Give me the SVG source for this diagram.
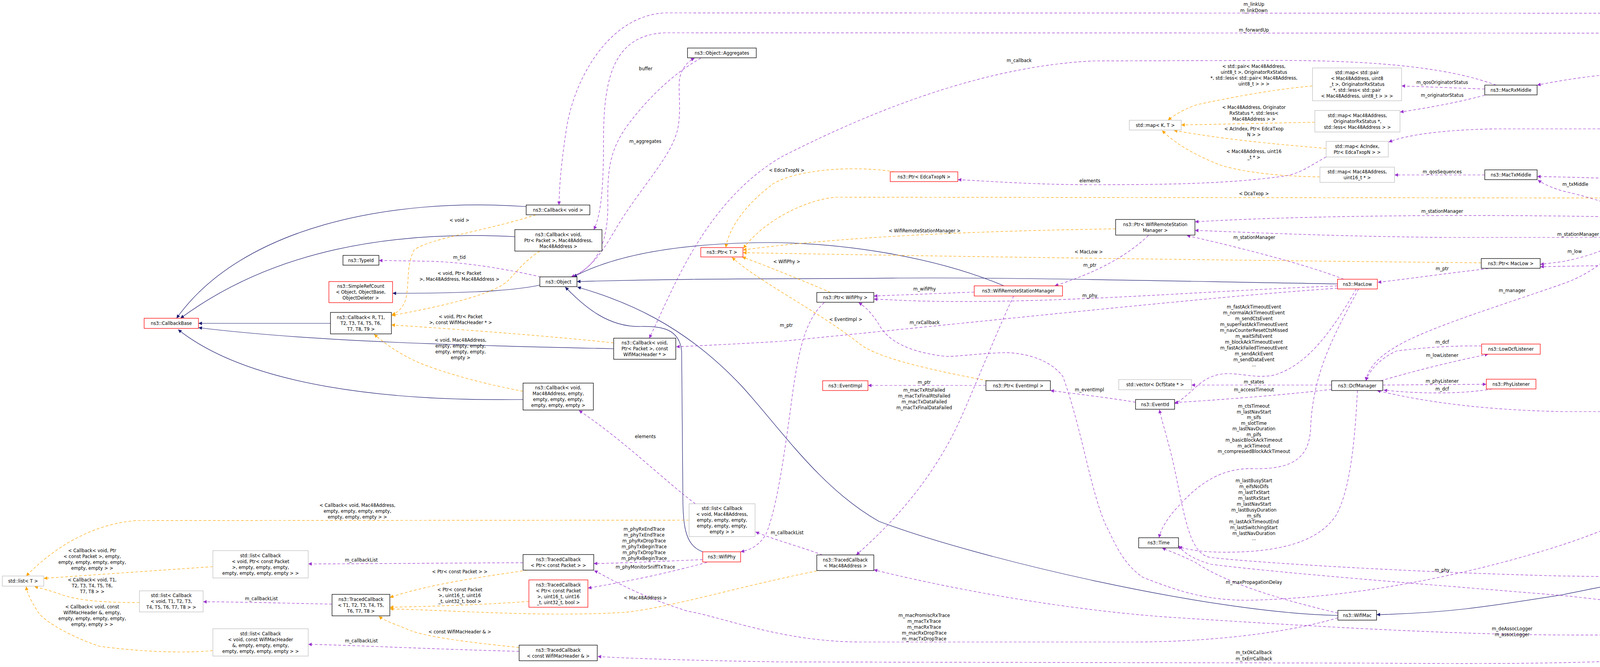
<svg xmlns="http://www.w3.org/2000/svg" width="5024" height="1708" viewBox="0 0 5024 1708">
<style>
.n rect{fill:#fff;stroke:#000;stroke-width:1.3}
.n.r rect{stroke:#f00}
.n.g rect{stroke:#bfbfbf}
.n.s rect{fill:#bfbfbf}
text{font-family:"DejaVu Sans","Liberation Sans",sans-serif;font-size:11.5px;fill:#000;text-anchor:middle}
.e path{fill:none;stroke-width:1.2}
.inh{stroke:#191970}
.use{stroke:#9a32cd;stroke-dasharray:7,5}
.tpl{stroke:#ffa500;stroke-dasharray:7,5}
</style>
<defs>
<marker id="ab" viewBox="0 0 10 10" refX="10" refY="5" markerUnits="userSpaceOnUse" markerWidth="12" markerHeight="9" orient="auto"><path d="M0,0L10,5L0,10z" fill="#191970"/></marker>
<marker id="ap" viewBox="0 0 10 10" refX="10" refY="5" markerUnits="userSpaceOnUse" markerWidth="12" markerHeight="9" orient="auto"><path d="M0,0L10,5L0,10z" fill="#9a32cd"/></marker>
<marker id="ao" viewBox="0 0 10 10" refX="10" refY="5" markerUnits="userSpaceOnUse" markerWidth="12" markerHeight="9" orient="auto"><path d="M0,0L10,5L0,10z" fill="#ffa500"/></marker>
</defs>
<rect width="5024" height="1708" fill="#fff"/>
<g id="edges" class="e">
<path class="inh" marker-end="url(#ab)" d="M1347,529 C1000,505 620,580 452,815"/>
<path class="inh" marker-end="url(#ab)" d="M1318,606 C1000,590 700,640 462,815"/>
<path class="inh" marker-end="url(#ab)" d="M846,828 L508,828"/>
<path class="inh" marker-end="url(#ab)" d="M1382,730 C1300,748 1150,751 1005,751"/>
<path class="inh" marker-end="url(#ab)" d="M1571,893 C1200,885 800,875 508,839"/>
<path class="inh" marker-end="url(#ab)" d="M1339,1023 C1000,1028 640,990 456,844"/>
<path class="inh" marker-end="url(#ab)" d="M1799,1413 C1750,1395 1748,1340 1748,1250 L1745,900 C1740,840 1690,835 1640,836 C1560,838 1500,790 1447,735"/>
<path class="inh" marker-end="url(#ab)" d="M2570,732 C2400,660 2150,615 1912,622 C1700,628 1560,660 1468,709"/>
<path class="inh" marker-end="url(#ab)" d="M3424,727 C3000,720 2600,710 2300,712 C2000,715 1800,712 1477,721"/>
<path class="inh" marker-end="url(#ab)" d="M3425,1576 C3100,1570 2500,1430 2250,1335 C2100,1250 2000,1100 1900,990 C1750,830 1600,770 1478,735"/>
<path class="inh" marker-end="url(#ab)" d="M4771,596 L4770,800 C4765,1100 4720,1330 4673,1353 C4500,1440 4200,1480 4000,1523 C3800,1555 3700,1570 3524,1574"/>
<path class="inh" marker-end="url(#ab)" d="M4955,1502 L4776,597"/>
<path class="inh" marker-end="url(#ab)" d="M4481,391 L4317,391"/>
<path class="use" marker-end="url(#ap)" d="M4770,570 C4760,300 4700,40 4530,34 L1702,33 C1560,40 1470,200 1450,330 C1435,430 1432,480 1431,525"/>
<path class="use" marker-end="url(#ap)" d="M4768,570 C4740,300 4680,90 4530,85 L1702,84 C1570,90 1545,200 1545,360 C1545,470 1540,550 1520,588"/>
<path class="use" marker-end="url(#ap)" d="M1470,708 C1520,680 1545,640 1580,580 C1640,480 1720,400 1735,330 C1745,280 1735,230 1740,200 C1745,175 1760,158 1778,149"/>
<path class="use" marker-end="url(#ap)" d="M1794,149 C1720,190 1650,260 1600,330 C1560,390 1555,440 1556,520 C1557,600 1540,680 1462,709"/>
<path class="use" marker-end="url(#ap)" d="M1384,709 C1300,690 1200,672 1100,669 L970,667"/>
<path class="use" marker-end="url(#ap)" d="M3830,218 C3700,170 3500,152 3200,155 L2800,156 C2500,170 2200,300 2000,402 C1800,520 1720,750 1662,866"/>
<path class="use" marker-end="url(#ap)" d="M1780,1290 C1700,1230 1600,1130 1482,1051"/>
<path class="use" marker-end="url(#ap)" d="M2105,1421 C2050,1400 1990,1385 1934,1362"/>
<path class="use" marker-end="url(#ap)" d="M1799,1433 C1700,1437 1600,1442 1520,1443"/>
<path class="use" marker-end="url(#ap)" d="M1810,1440 C1700,1470 1600,1490 1505,1506"/>
<path class="use" marker-end="url(#ap)" d="M2110,775 C2060,820 2045,900 2030,1000 C2010,1150 1990,1300 1960,1370 C1940,1400 1920,1408 1896,1413"/>
<path class="use" marker-end="url(#ap)" d="M2494,748 L2237,758"/>
<path class="use" marker-end="url(#ap)" d="M3424,732 C3100,745 2800,770 2500,772 C2350,773 2300,768 2237,766"/>
<path class="use" marker-end="url(#ap)" d="M3424,738 C3100,760 2600,815 2000,874 C1900,880 1800,885 1731,888"/>
<path class="use" marker-end="url(#ap)" d="M4163,556 C3900,550 3400,548 3059,568"/>
<path class="use" marker-end="url(#ap)" d="M4699,594 C4600,605 4550,608 4500,608 L3700,608 C3400,605 3200,595 3059,590"/>
<path class="use" marker-end="url(#ap)" d="M3440,715 C3350,680 3200,640 3038,603"/>
<path class="use" marker-end="url(#ap)" d="M2940,603 C2880,660 2800,700 2700,732"/>
<path class="tpl" marker-end="url(#ao)" d="M2856,586 C2600,590 2200,600 1902,640"/>
<path class="tpl" marker-end="url(#ao)" d="M2290,440 C2200,425 2050,430 1980,470 C1900,530 1865,590 1858,634"/>
<path class="tpl" marker-end="url(#ao)" d="M4470,545 C4400,520 4300,507 4150,507 L2140,505 C2070,510 1960,560 1903,636"/>
<path class="tpl" marker-end="url(#ao)" d="M3792,673 C3300,668 2600,660 1902,647"/>
<path class="tpl" marker-end="url(#ao)" d="M2126,749 C2060,720 1960,680 1900,658"/>
<path class="tpl" marker-end="url(#ao)" d="M2528,975 C2400,950 2250,920 2200,880 C2100,800 1940,720 1874,659"/>
<path class="use" marker-end="url(#ap)" d="M2595,758 C2560,830 2500,980 2460,1070 C2380,1250 2250,1370 2192,1421"/>
<path class="use" marker-end="url(#ap)" d="M2524,987 L2222,987"/>
<path class="use" marker-end="url(#ap)" d="M2907,1030 C2850,1020 2750,1008 2689,1000"/>
<path class="use" marker-end="url(#ap)" d="M3409,986 L3050,986"/>
<path class="use" marker-end="url(#ap)" d="M3409,997 C3300,1010 3150,1022 3007,1031"/>
<path class="use" marker-end="url(#ap)" d="M3472,740 C3420,830 3350,940 3255,962 C3180,972 3130,930 3064,989 C3040,1010 3025,1025 3007,1034"/>
<path class="use" marker-end="url(#ap)" d="M3478,740 C3420,850 3360,950 3355,1100 C3350,1180 3300,1203 3200,1200 C3100,1200 3040,1270 3000,1315 C2985,1335 2972,1355 2967,1377"/>
<path class="use" marker-end="url(#ap)" d="M3475,1000 C3470,1100 3460,1250 3420,1320 C3380,1380 3300,1405 3200,1412 C3100,1418 3050,1410 3017,1400"/>
<path class="use" marker-end="url(#ap)" d="M3425,1570 C3300,1540 3150,1500 3060,1440 C3020,1420 2990,1410 2975,1403"/>
<path class="use" marker-end="url(#ap)" d="M3425,1582 C3300,1620 3100,1644 2900,1644 L2200,1644 C2000,1643 1850,1580 1760,1565 C1620,1520 1560,1480 1521,1461"/>
<path class="use" marker-end="url(#ap)" d="M4768,596 C4766,800 4760,1000 4718,1260 C4650,1500 4450,1660 4200,1690 C4000,1700 3800,1700 3500,1698 L2000,1695 C1800,1692 1600,1686 1530,1681"/>
<path class="use" marker-end="url(#ap)" d="M4931,1527 C4880,1580 4750,1625 4650,1627 L4000,1626 C3700,1625 3300,1600 3000,1581 C2700,1560 2400,1500 2237,1459"/>
<path class="use" marker-end="url(#ap)" d="M4200,570 C4150,640 4080,700 4000,727 C3850,780 3650,840 3570,890 C3520,920 3500,950 3497,975"/>
<path class="use" marker-end="url(#ap)" d="M4192,570 C4160,620 4100,650 4000,670 L3943,677"/>
<path class="use" marker-end="url(#ap)" d="M4740,596 C4650,640 4500,675 4330,676 L3943,683"/>
<path class="use" marker-end="url(#ap)" d="M4762,596 C4760,800 4720,1000 4600,1050 C4550,1054 4500,1054 4400,1054 L4000,1054 C3800,1050 3650,1030 3525,1000"/>
<path class="use" marker-end="url(#ap)" d="M4751,596 C4745,800 4700,1000 4653,1047 C4450,1200 4200,1330 4000,1395 C3800,1460 3500,1530 3200,1537 C3100,1538 3030,1520 2925,1478 C2870,1440 2850,1380 2830,1343 C2790,1250 2770,1100 2721,964 C2680,910 2600,903 2574,903 C2500,905 2440,915 2415,912 C2320,900 2270,870 2249,829 C2230,800 2215,785 2198,775"/>
<path class="use" marker-end="url(#ap)" d="M4895,1512 C4600,1495 4300,1478 4000,1475 C3600,1465 3200,1440 3096,1427 C3040,1415 3030,1300 3000,1170 C2985,1110 2975,1080 2968,1049"/>
<path class="use" marker-end="url(#ap)" d="M4921,1528 C4850,1552 4800,1557 4750,1557 L4350,1557 C4200,1550 4100,1535 4000,1525 C3700,1500 3300,1470 3100,1445 C3050,1430 3030,1415 3017,1397"/>
<path class="use" marker-end="url(#ap)" d="M4762,570 C4740,400 4650,260 4555,245 C4450,200 4300,183 4215,185 C4100,188 4000,205 3935,218"/>
<path class="use" marker-end="url(#ap)" d="M4765,570 C4740,450 4680,340 4560,330 L3830,330 C3700,332 3600,345 3555,364"/>
<path class="use" marker-end="url(#ap)" d="M4758,570 C4735,500 4690,420 4620,400 L4561,391"/>
<path class="use" marker-end="url(#ap)" d="M4738,570 C4650,535 4550,505 4400,478 C4250,460 4100,455 3935,452"/>
<path class="use" marker-end="url(#ap)" d="M4180,545 C4120,520 4050,500 4000,489 C3970,480 3950,470 3937,461"/>
<path class="use" marker-end="url(#ap)" d="M4443,557 L4271,557"/>
<path class="use" marker-end="url(#ap)" d="M4699,576 L4599,567"/>
<path class="use" marker-end="url(#ap)" d="M3810,688 C3700,700 3600,715 3527,723"/>
<path class="use" marker-end="url(#ap)" d="M3801,228 L3588,220"/>
<path class="use" marker-end="url(#ap)" d="M3801,244 C3720,265 3650,277 3584,287"/>
<path class="use" marker-end="url(#ap)" d="M3801,448 L3570,448"/>
<path class="use" marker-end="url(#ap)" d="M3793,886 C3700,884 3600,895 3574,899 C3530,920 3505,950 3497,975"/>
<path class="use" marker-end="url(#ap)" d="M3535,975 C3620,950 3720,925 3810,907"/>
<path class="use" marker-end="url(#ap)" d="M3540,986 L3805,984"/>
<path class="use" marker-end="url(#ap)" d="M3820,996 C3750,1008 3650,1010 3542,999"/>
<path class="use" marker-end="url(#ap)" d="M3395,402 C3360,420 3330,445 3287,451 C3150,470 3000,473 2800,473 C2650,473 2550,465 2452,460"/>
<path class="tpl" marker-end="url(#ao)" d="M3360,220 C3250,230 3150,250 3064,268 C3030,280 3005,295 2990,308"/>
<path class="tpl" marker-end="url(#ao)" d="M3366,313 L3024,320"/>
<path class="tpl" marker-end="url(#ao)" d="M3395,380 C3300,372 3150,360 3005,334"/>
<path class="tpl" marker-end="url(#ao)" d="M3379,453 C3300,452 3200,445 3128,424 C3050,395 3000,360 2975,334"/>
<path class="tpl" marker-end="url(#ao)" d="M1571,878 C1400,860 1200,845 1002,832"/>
<path class="tpl" marker-end="url(#ao)" d="M1372,550 C1250,590 1100,610 1060,640 C1040,680 1048,720 1040,760 C1035,785 1020,800 1003,806"/>
<path class="tpl" marker-end="url(#ao)" d="M1382,643 C1340,670 1320,700 1297,722 C1250,760 1100,790 1003,808"/>
<path class="tpl" marker-end="url(#ao)" d="M1339,1002 C1250,985 1150,960 1073,929 C1020,905 985,880 958,856"/>
<path class="tpl" marker-end="url(#ao)" d="M1350,1460 C1250,1475 1100,1495 998,1530"/>
<path class="tpl" marker-end="url(#ao)" d="M1354,1540 C1250,1548 1100,1553 998,1555"/>
<path class="tpl" marker-end="url(#ao)" d="M2091,1462 C1900,1500 1720,1555 1600,1568 C1400,1580 1200,1565 998,1559"/>
<path class="tpl" marker-end="url(#ao)" d="M1329,1658 C1200,1645 1080,1630 1040,1610 C1010,1598 985,1590 970,1578"/>
<path class="use" marker-end="url(#ap)" d="M1339,1441 C1100,1442 900,1444 789,1444"/>
<path class="use" marker-end="url(#ap)" d="M850,1547 C750,1545 600,1541 520,1541"/>
<path class="use" marker-end="url(#ap)" d="M1329,1668 C1100,1662 900,1652 789,1650"/>
<path class="tpl" marker-end="url(#ao)" d="M1764,1332 L350,1333 C250,1340 150,1390 67,1475"/>
<path class="tpl" marker-end="url(#ao)" d="M545,1451 L112,1481"/>
<path class="tpl" marker-end="url(#ao)" d="M357,1543 C280,1543 200,1540 150,1520 C120,1510 100,1505 88,1502"/>
<path class="tpl" marker-end="url(#ao)" d="M545,1666 C450,1675 330,1665 255,1655 C180,1630 110,1590 96,1565 C80,1540 70,1520 67,1502"/>
</g>
<g id="labels">
<text x="3210" y="15">m_linkUp</text><text x="3210" y="31">m_linkDown</text>
<text x="3210" y="81">m_forwardUp</text>
<text x="2609" y="159">m_callback</text>
<text x="1653" y="180">buffer</text>
<text x="1652" y="366">m_aggregates</text>
<text x="1176" y="663">m_tid</text>
<text x="1176" y="568">&lt; void &gt;</text>
<text x="1176" y="704">&lt; void, Ptr&lt; Packet</text><text x="1176" y="719">&gt;, Mac48Address, Mac48Address &gt;</text>
<text x="1179" y="815">&lt; void, Ptr&lt; Packet</text><text x="1179" y="830">&gt;, const WifiMacHeader * &gt;</text>
<text x="1179" y="875">&lt; void, Mac48Address,</text><text x="1179" y="890">empty, empty, empty,</text><text x="1179" y="905">empty, empty, empty,</text><text x="1179" y="920">empty &gt;</text>
<text x="1652" y="1122">elements</text>
<text x="2015" y="1368">m_callbackList</text>
<text x="1649" y="1359">m_phyRxEndTrace</text><text x="1649" y="1374">m_phyTxEndTrace</text><text x="1649" y="1389">m_phyRxDropTrace</text><text x="1649" y="1404">m_phyTxBeginTrace</text><text x="1649" y="1419">m_phyTxDropTrace</text><text x="1649" y="1434">m_phyRxBeginTrace</text>
<text x="1652" y="1456">m_phyMonitorSniffTxTrace</text>
<text x="1177" y="1468">&lt; Ptr&lt; const Packet &gt; &gt;</text>
<text x="1177" y="1514">&lt; Ptr&lt; const Packet</text><text x="1177" y="1529">&gt;, uint16_t, uint16</text><text x="1177" y="1544">_t, uint32_t, bool &gt;</text>
<text x="1652" y="1535">&lt; Mac48Address &gt;</text>
<text x="1177" y="1622">&lt; const WifiMacHeader &amp; &gt;</text>
<text x="925" y="1438">m_callbackList</text>
<text x="669" y="1537">m_callbackList</text>
<text x="925" y="1645">m_callbackList</text>
<text x="915" y="1298">&lt; Callback&lt; void, Mac48Address,</text><text x="915" y="1313">empty, empty, empty, empty,</text><text x="915" y="1328">empty, empty, empty &gt; &gt;</text>
<text x="236" y="1414">&lt; Callback&lt; void, Ptr</text><text x="236" y="1429">&lt; const Packet &gt;, empty,</text><text x="236" y="1444">empty, empty, empty, empty,</text><text x="236" y="1459">empty, empty &gt; &gt;</text>
<text x="236" y="1489">&lt; Callback&lt; void, T1,</text><text x="236" y="1504">T2, T3, T4, T5, T6,</text><text x="236" y="1519">T7, T8 &gt; &gt;</text>
<text x="236" y="1558">&lt; Callback&lt; void, const</text><text x="236" y="1573">WifiMacHeader &amp;, empty,</text><text x="236" y="1588">empty, empty, empty, empty,</text><text x="236" y="1603">empty, empty &gt; &gt;</text>
<text x="2014" y="440">&lt; EdcaTxopN &gt;</text>
<text x="3210" y="500">&lt; DcaTxop &gt;</text>
<text x="2367" y="595">&lt; WifiRemoteStationManager &gt;</text>
<text x="2787" y="649">&lt; MacLow &gt;</text>
<text x="2014" y="674">&lt; WifiPhy &gt;</text>
<text x="2165" y="822">&lt; EventImpl &gt;</text>
<text x="2013" y="837">m_ptr</text>
<text x="2790" y="683">m_ptr</text>
<text x="2367" y="744">m_wifiPhy</text>
<text x="2790" y="761">m_phy</text>
<text x="2367" y="830">m_rxCallback</text>
<text x="2366" y="983">m_ptr</text>
<text x="2366" y="1003">m_macTxRtsFailed</text><text x="2366" y="1018">m_macTxFinalRtsFailed</text><text x="2366" y="1033">m_macTxDataFailed</text><text x="2366" y="1048">m_macTxFinalDataFailed</text>
<text x="2789" y="1002">m_eventImpl</text>
<text x="3210" y="982">m_states</text>
<text x="3210" y="1002">m_accessTimeout</text>
<text x="3210" y="790">m_fastAckTimeoutEvent</text><text x="3210" y="805">m_normalAckTimeoutEvent</text><text x="3210" y="820">m_sendCtsEvent</text><text x="3210" y="835">m_superFastAckTimeoutEvent</text><text x="3210" y="850">m_navCounterResetCtsMissed</text><text x="3210" y="865">m_waitSifsEvent</text><text x="3210" y="880">m_blockAckTimeoutEvent</text><text x="3210" y="895">m_fastAckFailedTimeoutEvent</text><text x="3210" y="910">m_sendAckEvent</text><text x="3210" y="925">m_sendDataEvent</text><text x="3210" y="938">...</text>
<text x="3210" y="1044">m_ctsTimeout</text><text x="3210" y="1058.5">m_lastNavStart</text><text x="3210" y="1073">m_sifs</text><text x="3210" y="1087.5">m_slotTime</text><text x="3210" y="1102">m_lastNavDuration</text><text x="3210" y="1116.5">m_pifs</text><text x="3210" y="1131">m_basicBlockAckTimeout</text><text x="3210" y="1145.5">m_ackTimeout</text><text x="3210" y="1160">m_compressedBlockAckTimeout</text>
<text x="3210" y="1235">m_lastBusyStart</text><text x="3210" y="1250">m_eifsNoDifs</text><text x="3210" y="1265">m_lastTxStart</text><text x="3210" y="1280">m_lastRxStart</text><text x="3210" y="1295">m_lastNavStart</text><text x="3210" y="1310">m_lastBusyDuration</text><text x="3210" y="1325">m_sifs</text><text x="3210" y="1340">m_lastAckTimeoutEnd</text><text x="3210" y="1355">m_lastSwitchingStart</text><text x="3210" y="1370">m_lastNavDuration</text><text x="3210" y="1383">...</text>
<text x="3210" y="1495">m_maxPropagationDelay</text>
<text x="3692" y="1464">m_phy</text>
<text x="3871" y="1614">m_deAssocLogger</text><text x="3871" y="1629">m_assocLogger</text>
<text x="3210" y="1675">m_txOkCallback</text><text x="3210" y="1691">m_txErrCallback</text>
<text x="2366" y="1580">m_macPromiscRxTrace</text><text x="2366" y="1595">m_macTxTrace</text><text x="2366" y="1610">m_macRxTrace</text><text x="2366" y="1625">m_macRxDropTrace</text><text x="2366" y="1640">m_macTxDropTrace</text>
<text x="3871" y="748">m_manager</text>
<text x="3692" y="880">m_dcf</text>
<text x="3692" y="914">m_lowListener</text>
<text x="3692" y="980">m_phyListener</text>
<text x="3692" y="1000">m_dcf</text>
<text x="4219" y="1051">m_dcfManager</text>
<text x="4219" y="1445">m_beaconWatchdog</text><text x="4219" y="1460">m_assocRequestEvent</text><text x="4219" y="1475">m_probeRequestEvent</text>
<text x="4219" y="1508">m_probeRequestTimeout</text><text x="4219" y="1523">m_beaconWatchdogEnd</text><text x="4219" y="1538">m_assocRequestTimeout</text>
<text x="3692" y="215">m_qosOriginatorStatus</text>
<text x="3692" y="248">m_originatorStatus</text>
<text x="3692" y="444">m_qosSequences</text>
<text x="3692" y="545">m_stationManager</text>
<text x="3211" y="612">m_stationManager</text>
<text x="4040" y="604">m_stationManager</text>
<text x="3692" y="692">m_ptr</text>
<text x="4381" y="186">m_rxMiddle</text>
<text x="4219" y="324">m_edca</text>
<text x="4651" y="395">m_ssid</text>
<text x="4381" y="473">m_txMiddle</text>
<text x="4033" y="476">m_txMiddle</text>
<text x="4382" y="553">m_ptr</text>
<text x="4651" y="564">m_dca</text>
<text x="4031" y="648">m_low</text>
<text x="4381" y="668">m_low</text>
<text x="2790" y="467">elements</text>
<text x="3210" y="174">&lt; std::pair&lt; Mac48Address,</text><text x="3210" y="189">uint8_t &gt;, OriginatorRxStatus</text><text x="3210" y="204">*, std::less&lt; std::pair&lt; Mac48Address,</text><text x="3210" y="219">uint8_t &gt; &gt; &gt;</text>
<text x="3210" y="279">&lt; Mac48Address, Originator</text><text x="3210" y="294">RxStatus *, std::less&lt;</text><text x="3210" y="309">Mac48Address &gt; &gt;</text>
<text x="3210" y="334">&lt; AcIndex, Ptr&lt; EdcaTxop</text><text x="3210" y="349">N &gt; &gt;</text>
<text x="3210" y="392">&lt; Mac48Address, uint16</text><text x="3210" y="407">_t * &gt;</text>
</g>
<g id="n1" class="n s"><rect x="4895" y="1502" width="123" height="25"/><text x="4956.5" y="1518.5">ns3::StaWifiMac</text></g>
<g id="n2" class="n"><rect x="4699" y="570" width="146" height="26"/><text x="4772" y="587">ns3::RegularWifiMac</text></g>
<g id="n3" class="n"><rect x="3425" y="1563" width="99" height="25"/><text x="3474.5" y="1579.5">ns3::WifiMac</text></g>
<g id="n4" class="n"><rect x="1382" y="709" width="95" height="25"/><text x="1429.5" y="725.5">ns3::Object</text></g>
<g id="n5" class="n r"><rect x="842" y="721" width="163" height="54"/><text x="923.5" y="737">ns3::SimpleRefCount</text><text x="923.5" y="752">&lt; Object, ObjectBase,</text><text x="923.5" y="767">ObjectDeleter &gt;</text></g>
<g id="n6" class="n"><rect x="878" y="654" width="92" height="25"/><text x="924" y="670.5">ns3::TypeId</text></g>
<g id="n7" class="n"><rect x="1760" y="123" width="176" height="25"/><text x="1848" y="139.5">ns3::Object::Aggregates</text></g>
<g id="n8" class="n r"><rect x="369" y="815" width="139" height="26"/><text x="438.5" y="832">ns3::CallbackBase</text></g>
<g id="n9" class="n"><rect x="846" y="800" width="156" height="55"/><text x="924" y="816.5">ns3::Callback&lt; R, T1,</text><text x="924" y="831.5">T2, T3, T4, T5, T6,</text><text x="924" y="846.5">T7, T8, T9 &gt;</text></g>
<g id="n10" class="n"><rect x="1347" y="525" width="163" height="25"/><text x="1428.5" y="541.5">ns3::Callback&lt; void &gt;</text></g>
<g id="n11" class="n"><rect x="1318" y="588" width="223" height="55"/><text x="1429.5" y="604.5">ns3::Callback&lt; void,</text><text x="1429.5" y="619.5">Ptr&lt; Packet &gt;, Mac48Address,</text><text x="1429.5" y="634.5">Mac48Address &gt;</text></g>
<g id="n12" class="n"><rect x="1571" y="866" width="159" height="54"/><text x="1650.5" y="882">ns3::Callback&lt; void,</text><text x="1650.5" y="897">Ptr&lt; Packet &gt;, const</text><text x="1650.5" y="912">WifiMacHeader * &gt;</text></g>
<g id="n13" class="n"><rect x="1339" y="981" width="180" height="69"/><text x="1429" y="997">ns3::Callback&lt; void,</text><text x="1429" y="1012">Mac48Address, empty,</text><text x="1429" y="1027">empty, empty, empty,</text><text x="1429" y="1042">empty, empty, empty &gt;</text></g>
<g id="n14" class="n g"><rect x="1764" y="1290" width="169" height="84"/><text x="1848.5" y="1306">std::list&lt; Callback</text><text x="1848.5" y="1321">&lt; void, Mac48Address,</text><text x="1848.5" y="1336">empty, empty, empty,</text><text x="1848.5" y="1351">empty, empty, empty,</text><text x="1848.5" y="1366">empty &gt; &gt;</text></g>
<g id="n15" class="n r"><rect x="1799" y="1413" width="97" height="26"/><text x="1847.5" y="1430">ns3::WifiPhy</text></g>
<g id="n16" class="n"><rect x="1339" y="1420" width="181" height="40"/><text x="1429.5" y="1436.5">ns3::TracedCallback</text><text x="1429.5" y="1451.5">&lt; Ptr&lt; const Packet &gt; &gt;</text></g>
<g id="n17" class="n r"><rect x="1354" y="1485" width="151" height="70"/><text x="1429.5" y="1501.5">ns3::TracedCallback</text><text x="1429.5" y="1516.5">&lt; Ptr&lt; const Packet</text><text x="1429.5" y="1531.5">&gt;, uint16_t, uint16</text><text x="1429.5" y="1546.5">_t, uint32_t, bool &gt;</text></g>
<g id="n18" class="n"><rect x="1329" y="1652" width="200" height="40"/><text x="1429" y="1668.5">ns3::TracedCallback</text><text x="1429" y="1683.5">&lt; const WifiMacHeader &amp; &gt;</text></g>
<g id="n19" class="n g"><rect x="545" y="1410" width="244" height="70"/><text x="667" y="1426.5">std::list&lt; Callback</text><text x="667" y="1441.5">&lt; void, Ptr&lt; const Packet</text><text x="667" y="1456.5">&gt;, empty, empty, empty,</text><text x="667" y="1471.5">empty, empty, empty, empty &gt; &gt;</text></g>
<g id="n20" class="n"><rect x="850" y="1522" width="148" height="55"/><text x="924" y="1538.5">ns3::TracedCallback</text><text x="924" y="1553.5">&lt; T1, T2, T3, T4, T5,</text><text x="924" y="1568.5">T6, T7, T8 &gt;</text></g>
<g id="n21" class="n g"><rect x="357" y="1513" width="163" height="54"/><text x="438.5" y="1529">std::list&lt; Callback</text><text x="438.5" y="1544">&lt; void, T1, T2, T3,</text><text x="438.5" y="1559">T4, T5, T6, T7, T8 &gt; &gt;</text></g>
<g id="n22" class="n g"><rect x="545" y="1610" width="244" height="70"/><text x="667" y="1626.5">std::list&lt; Callback</text><text x="667" y="1641.5">&lt; void, const WifiMacHeader</text><text x="667" y="1656.5">&amp;, empty, empty, empty,</text><text x="667" y="1671.5">empty, empty, empty, empty &gt; &gt;</text></g>
<g id="n23" class="n g"><rect x="6" y="1475" width="106" height="26"/><text x="59" y="1492">std::list&lt; T &gt;</text></g>
<g id="n24" class="n r"><rect x="1794" y="634" width="108" height="24"/><text x="1848" y="650">ns3::Ptr&lt; T &gt;</text></g>
<g id="n25" class="n r"><rect x="2279" y="440" width="173" height="25"/><text x="2365.5" y="456.5">ns3::Ptr&lt; EdcaTxopN &gt;</text></g>
<g id="n26" class="n"><rect x="2856" y="562" width="203" height="40"/><text x="2957.5" y="578.5">ns3::Ptr&lt; WifiRemoteStation</text><text x="2957.5" y="593.5">Manager &gt;</text></g>
<g id="n27" class="n r"><rect x="2494" y="732" width="226" height="26"/><text x="2607" y="749">ns3::WifiRemoteStationManager</text></g>
<g id="n28" class="n"><rect x="2091" y="749" width="146" height="25"/><text x="2164" y="765.5">ns3::Ptr&lt; WifiPhy &gt;</text></g>
<g id="n29" class="n r"><rect x="2106" y="975" width="116" height="25"/><text x="2164" y="991.5">ns3::EventImpl</text></g>
<g id="n30" class="n"><rect x="2524" y="975" width="165" height="25"/><text x="2606.5" y="991.5">ns3::Ptr&lt; EventImpl &gt;</text></g>
<g id="n31" class="n g"><rect x="2864" y="972" width="186" height="26"/><text x="2957" y="989">std::vector&lt; DcfState * &gt;</text></g>
<g id="n32" class="n"><rect x="2907" y="1023" width="100" height="25"/><text x="2957" y="1039.5">ns3::EventId</text></g>
<g id="n33" class="n"><rect x="2915" y="1377" width="102" height="26"/><text x="2966" y="1394">ns3::Time</text></g>
<g id="n34" class="n"><rect x="2091" y="1421" width="146" height="40"/><text x="2164" y="1437.5">ns3::TracedCallback</text><text x="2164" y="1452.5">&lt; Mac48Address &gt;</text></g>
<g id="n35" class="n r"><rect x="3424" y="715" width="102" height="25"/><text x="3475" y="731.5">ns3::MacLow</text></g>
<g id="n36" class="n"><rect x="3409" y="975" width="131" height="25"/><text x="3474.5" y="991.5">ns3::DcfManager</text></g>
<g id="n37" class="n r"><rect x="3793" y="881" width="150" height="26"/><text x="3868" y="898">ns3::LowDcfListener</text></g>
<g id="n38" class="n r"><rect x="3805" y="971" width="127" height="25"/><text x="3868.5" y="987.5">ns3::PhyListener</text></g>
<g id="n39" class="n g"><rect x="3360" y="174" width="228" height="84"/><text x="3474" y="190">std::map&lt; std::pair</text><text x="3474" y="205">&lt; Mac48Address, uint8</text><text x="3474" y="220">_t &gt;, OriginatorRxStatus</text><text x="3474" y="235"> *, std::less&lt; std::pair</text><text x="3474" y="250">&lt; Mac48Address, uint8_t &gt; &gt; &gt;</text></g>
<g id="n40" class="n"><rect x="3801" y="218" width="134" height="25"/><text x="3868" y="234.5">ns3::MacRxMiddle</text></g>
<g id="n41" class="n g"><rect x="3366" y="283" width="218" height="55"/><text x="3475" y="299.5">std::map&lt; Mac48Address,</text><text x="3475" y="314.5">OriginatorRxStatus *,</text><text x="3475" y="329.5">std::less&lt; Mac48Address &gt; &gt;</text></g>
<g id="n42" class="n g"><rect x="2891" y="308" width="133" height="25"/><text x="2957.5" y="324.5">std::map&lt; K, T &gt;</text></g>
<g id="n43" class="n g"><rect x="3395" y="362" width="159" height="40"/><text x="3474.5" y="378.5">std::map&lt; AcIndex,</text><text x="3474.5" y="393.5">Ptr&lt; EdcaTxopN &gt; &gt;</text></g>
<g id="n44" class="n g"><rect x="3379" y="428" width="191" height="39"/><text x="3474.5" y="444">std::map&lt; Mac48Address,</text><text x="3474.5" y="459">uint16_t * &gt;</text></g>
<g id="n45" class="n"><rect x="3801" y="435" width="134" height="25"/><text x="3868" y="451.5">ns3::MacTxMiddle</text></g>
<g id="n46" class="n"><rect x="3792" y="662" width="151" height="25"/><text x="3867.5" y="678.5">ns3::Ptr&lt; MacLow &gt;</text></g>
<g id="n47" class="n r"><rect x="4118" y="378" width="199" height="25"/><text x="4217.5" y="394.5">ns3::WifiInformationElement</text></g>
<g id="n48" class="n"><rect x="4481" y="378" width="80" height="25"/><text x="4521" y="394.5">ns3::Ssid</text></g>
<g id="n49" class="n r"><rect x="4163" y="545" width="108" height="25"/><text x="4217" y="561.5">ns3::DcaTxop</text></g>
<g id="n50" class="n"><rect x="4443" y="545" width="156" height="25"/><text x="4521" y="561.5">ns3::Ptr&lt; DcaTxop &gt;</text></g>
</svg>
